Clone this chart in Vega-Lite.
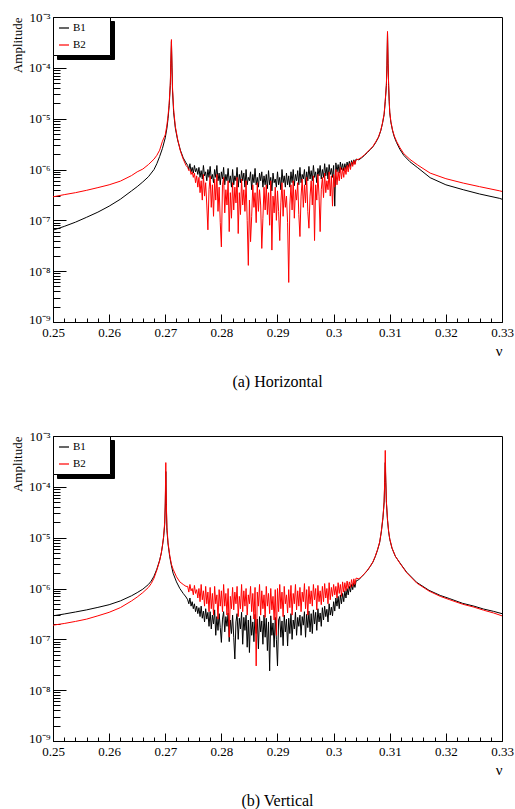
{
"$schema":"https://vega.github.io/schema/vega-lite/v6.json",
"background":"white",
"padding":{"left":10,"top":10,"right":6,"bottom":2},
"config":{"font":"Liberation Serif","view":{"stroke":"black","strokeWidth":1},
"axis":{"domainColor":"black","tickColor":"black","labelColor":"black","titleColor":"black","labelFont":"Liberation Serif","titleFont":"Liberation Serif","labelFontSize":13,"titleFontSize":13,"titleFontWeight":"normal","grid":false,"labelOverlap":false,"labelFlush":false},
"legend":{"padding":5,"symbolSize":100,"symbolStrokeWidth":1.2,"labelFontSize":11,"labelFont":"Liberation Serif","labelColor":"black","rowPadding":6,"labelOffset":3}},
"datasets":{
"k":[{"k":0,"j":0},{"k":1,"j":2}],
"h":[
{"x":0.25,"B1":6.4e-8,"B2":2.9e-7},{"x":0.252,"B1":7.6e-8,"B2":3.2e-7},{"x":0.254,"B1":9.2e-8,"B2":3.5e-7},{"x":0.256,"B1":1.15e-7,"B2":3.9e-7},{"x":0.258,"B1":1.45e-7,"B2":4.4e-7},{"x":0.26,"B1":1.9e-7,"B2":5.0e-7},{"x":0.262,"B1":2.6e-7,"B2":5.9e-7},{"x":0.264,"B1":3.8e-7,"B2":7.6e-7},{"x":0.265,"B1":4.6e-7,"B2":9.0e-7},{"x":0.266,"B1":5.7e-7,"B2":1.02e-6},{"x":0.267,"B1":7.2e-7,"B2":1.25e-6},{"x":0.268,"B1":1.0e-6,"B2":1.6e-6},{"x":0.2685,"B1":1.3e-6,"B2":1.9e-6},{"x":0.269,"B1":1.8e-6,"B2":2.4e-6},{"x":0.2695,"B1":2.6e-6,"B2":3.6e-6},{"x":0.27,"B1":4.2e-6,"B2":4.8e-6},{"x":0.2703,"B1":6.5e-6,"B2":7.5e-6},{"x":0.2705,"B1":1.0e-5,"B2":1.15e-5},{"x":0.2707,"B1":1.8e-5,"B2":2.0e-5},{"x":0.2709,"B1":4.5e-5,"B2":5.0e-5},{"x":0.271,"B1":1.2e-4,"B2":1.4e-4},{"x":0.2711,"B1":3.3e-4,"B2":3.6e-4},{"x":0.2712,"B1":1.0e-4,"B2":1.1e-4},{"x":0.2713,"B1":3.5e-5,"B2":4.0e-5},{"x":0.2715,"B1":1.3e-5,"B2":1.5e-5},{"x":0.2718,"B1":6.5e-6,"B2":7.0e-6},{"x":0.2722,"B1":3.8e-6,"B2":4.0e-6},{"x":0.2727,"B1":2.4e-6,"B2":2.3e-6},{"x":0.2732,"B1":1.7e-6,"B2":1.6e-6},{"x":0.2737,"B1":1.35e-6,"B2":1.2e-6},
{"x":0.274,"B1":1.2e-6,"B2":1.1e-6},{"x":0.2742,"B1":1.0e-6,"B2":9.5e-7},{"x":0.2744,"B1":1.3e-6,"B2":1.0e-6},{"x":0.2746,"B1":9e-7,"B2":8e-7},{"x":0.2748,"B1":1.1e-6,"B2":9e-7},{"x":0.275,"B1":8.5e-7,"B2":7e-7},{"x":0.2752,"B1":1.2e-6,"B2":8.5e-7},{"x":0.2754,"B1":9e-7,"B2":5.5e-7},{"x":0.2756,"B1":1.05e-6,"B2":7.5e-7},{"x":0.2758,"B1":8e-7,"B2":4.5e-7},
{"x":0.276,"B1":1.1e-6,"B2":7e-7},{"x":0.2762,"B1":7e-7,"B2":3.5e-7},{"x":0.2764,"B1":9.5e-7,"B2":6e-7},{"x":0.2766,"B1":6.5e-7,"B2":2.5e-7},{"x":0.2768,"B1":1.2e-6,"B2":8e-7},{"x":0.277,"B1":7.5e-7,"B2":3e-7},{"x":0.2772,"B1":9e-7,"B2":5.5e-7},{"x":0.2774,"B1":6e-7,"B2":2e-7},{"x":0.2776,"B1":1.0e-6,"B2":6.5e-8},{"x":0.2778,"B1":7e-7,"B2":4e-7},
{"x":0.278,"B1":1.15e-6,"B2":7.5e-7},{"x":0.2782,"B1":6.5e-7,"B2":1.8e-7},{"x":0.2784,"B1":8e-7,"B2":5e-7},{"x":0.2786,"B1":5.5e-7,"B2":1.2e-7},{"x":0.2788,"B1":1.0e-6,"B2":6.5e-7},{"x":0.279,"B1":7e-7,"B2":2.5e-7},{"x":0.2792,"B1":1.2e-6,"B2":8e-7},{"x":0.2794,"B1":6e-7,"B2":1.5e-7},{"x":0.2796,"B1":8.5e-7,"B2":4.5e-7},{"x":0.2798,"B1":5e-7,"B2":9e-8},
{"x":0.28,"B1":9e-7,"B2":3e-8},{"x":0.2802,"B1":6.5e-7,"B2":5e-7},{"x":0.2804,"B1":1.1e-6,"B2":7e-7},{"x":0.2806,"B1":5e-7,"B2":1.4e-7},{"x":0.2808,"B1":8e-7,"B2":4e-7},{"x":0.281,"B1":6e-7,"B2":2e-7},{"x":0.2812,"B1":1.05e-6,"B2":6e-7},{"x":0.2814,"B1":5.5e-7,"B2":6e-8},{"x":0.2816,"B1":7.5e-7,"B2":3.5e-7},{"x":0.2818,"B1":4.5e-7,"B2":1.1e-7},
{"x":0.282,"B1":1.0e-6,"B2":5.5e-7},{"x":0.2822,"B1":5e-7,"B2":1.6e-7},{"x":0.2824,"B1":7.5e-7,"B2":4.5e-7},{"x":0.2826,"B1":6e-7,"B2":2.2e-7},{"x":0.2828,"B1":1.1e-6,"B2":7e-7},{"x":0.283,"B1":4.5e-7,"B2":5.5e-8},{"x":0.2832,"B1":8e-7,"B2":3.5e-7},{"x":0.2834,"B1":5.5e-7,"B2":1.3e-7},{"x":0.2836,"B1":9.5e-7,"B2":6.5e-7},{"x":0.2838,"B1":6e-7,"B2":2e-7},
{"x":0.284,"B1":8.5e-7,"B2":4e-7},{"x":0.2842,"B1":4.5e-7,"B2":1.5e-7},{"x":0.2844,"B1":1.0e-6,"B2":6e-7},{"x":0.2846,"B1":5e-7,"B2":1.0e-7},{"x":0.2848,"B1":7e-7,"B2":1.3e-8},{"x":0.285,"B1":6e-7,"B2":2.5e-7},{"x":0.2852,"B1":9e-7,"B2":3.8e-8},{"x":0.2854,"B1":4e-7,"B2":1.2e-7},{"x":0.2856,"B1":8e-7,"B2":5e-7},{"x":0.2858,"B1":5.5e-7,"B2":1.8e-7},
{"x":0.286,"B1":1.05e-6,"B2":3.5e-7},{"x":0.2862,"B1":5e-7,"B2":9e-8},{"x":0.2864,"B1":7e-7,"B2":5.5e-7},{"x":0.2866,"B1":4.5e-7,"B2":1.5e-7},{"x":0.2868,"B1":8.5e-7,"B2":4e-7},{"x":0.287,"B1":6e-7,"B2":2e-7},{"x":0.2872,"B1":9e-7,"B2":2.8e-8},{"x":0.2874,"B1":4.5e-7,"B2":1.1e-7},{"x":0.2876,"B1":7.5e-7,"B2":4.5e-7},{"x":0.2878,"B1":5e-7,"B2":1.6e-7},
{"x":0.288,"B1":8e-7,"B2":5e-7},{"x":0.2882,"B1":4.2e-7,"B2":1.3e-7},{"x":0.2884,"B1":9.5e-7,"B2":3.5e-7},{"x":0.2886,"B1":5e-7,"B2":8e-8},{"x":0.2888,"B1":7e-7,"B2":6e-7},{"x":0.289,"B1":3.8e-7,"B2":2.6e-8},{"x":0.2892,"B1":8.5e-7,"B2":3e-7},{"x":0.2894,"B1":5.5e-7,"B2":1.4e-7},{"x":0.2896,"B1":6.5e-7,"B2":4.5e-7},{"x":0.2898,"B1":4.5e-7,"B2":1.0e-7},
{"x":0.29,"B1":9e-7,"B2":3.8e-7},{"x":0.2902,"B1":5e-7,"B2":1.5e-7},{"x":0.2904,"B1":7e-7,"B2":4e-8},{"x":0.2906,"B1":4e-7,"B2":2.2e-7},{"x":0.2908,"B1":1.0e-6,"B2":5.5e-7},{"x":0.291,"B1":5.5e-7,"B2":1.2e-7},{"x":0.2912,"B1":7.5e-7,"B2":4e-7},{"x":0.2914,"B1":4.5e-7,"B2":1.8e-7},{"x":0.2916,"B1":8.5e-7,"B2":3e-7},{"x":0.2918,"B1":5e-7,"B2":9e-8},
{"x":0.292,"B1":7.5e-7,"B2":6e-9},{"x":0.2922,"B1":4.5e-7,"B2":2e-7},{"x":0.2924,"B1":9e-7,"B2":5e-7},{"x":0.2926,"B1":5.5e-7,"B2":1.6e-7},{"x":0.2928,"B1":1.0e-6,"B2":6e-7},{"x":0.293,"B1":4.8e-7,"B2":1.1e-7},{"x":0.2932,"B1":8e-7,"B2":4e-7},{"x":0.2934,"B1":6e-7,"B2":2.5e-7},{"x":0.2936,"B1":9.5e-7,"B2":5.5e-7},{"x":0.2938,"B1":5e-7,"B2":1.3e-7},
{"x":0.294,"B1":1.1e-6,"B2":4.8e-8},{"x":0.2942,"B1":5.5e-7,"B2":3e-7},{"x":0.2944,"B1":8e-7,"B2":6.5e-7},{"x":0.2946,"B1":6.5e-7,"B2":1.8e-7},{"x":0.2948,"B1":1.0e-6,"B2":5e-7},{"x":0.295,"B1":5e-7,"B2":2.2e-7},{"x":0.2952,"B1":9e-7,"B2":7e-7},{"x":0.2954,"B1":6e-7,"B2":1.5e-7},{"x":0.2956,"B1":1.15e-6,"B2":7e-8},{"x":0.2958,"B1":6.5e-7,"B2":3e-7},
{"x":0.296,"B1":9.5e-7,"B2":6e-7},{"x":0.2962,"B1":6e-7,"B2":2e-7},{"x":0.2964,"B1":1.2e-6,"B2":7.5e-7},{"x":0.2966,"B1":7e-7,"B2":4e-8},{"x":0.2968,"B1":9e-7,"B2":5e-7},{"x":0.297,"B1":5.5e-7,"B2":2.5e-7},{"x":0.2972,"B1":1.05e-6,"B2":8e-7},{"x":0.2974,"B1":7.5e-7,"B2":3e-7},{"x":0.2976,"B1":1.2e-6,"B2":6e-8},{"x":0.2978,"B1":6.5e-7,"B2":4e-7},
{"x":0.298,"B1":1.0e-6,"B2":7e-7},{"x":0.2982,"B1":7e-7,"B2":2.8e-7},{"x":0.2984,"B1":1.3e-6,"B2":8.5e-7},{"x":0.2986,"B1":7.5e-7,"B2":3.5e-7},{"x":0.2988,"B1":1.1e-6,"B2":6e-7},{"x":0.299,"B1":6.5e-7,"B2":4e-7},{"x":0.2992,"B1":1.25e-6,"B2":9e-7},{"x":0.2994,"B1":8e-7,"B2":3e-7},{"x":0.2996,"B1":1.05e-6,"B2":7.5e-7},{"x":0.2998,"B1":7e-7,"B2":1.9e-7},
{"x":0.3,"B1":1.2e-6,"B2":8e-7},{"x":0.3002,"B1":1.9e-7,"B2":4.5e-7},{"x":0.3004,"B1":1.35e-6,"B2":1.0e-6},{"x":0.3006,"B1":9e-7,"B2":5e-7},{"x":0.3008,"B1":1.25e-6,"B2":9e-7},{"x":0.301,"B1":8.5e-7,"B2":6e-7},{"x":0.3012,"B1":1.4e-6,"B2":1.1e-6},{"x":0.3014,"B1":1.0e-6,"B2":6.5e-7},{"x":0.3016,"B1":1.3e-6,"B2":1.05e-6},{"x":0.3018,"B1":9.5e-7,"B2":7e-7},
{"x":0.302,"B1":1.3e-6,"B2":1.1e-6},{"x":0.3022,"B1":1.0e-6,"B2":8e-7},{"x":0.3024,"B1":1.4e-6,"B2":1.2e-6},{"x":0.3026,"B1":1.1e-6,"B2":9e-7},{"x":0.3028,"B1":1.45e-6,"B2":1.3e-6},{"x":0.303,"B1":1.15e-6,"B2":1.0e-6},{"x":0.3032,"B1":1.5e-6,"B2":1.4e-6},{"x":0.3034,"B1":1.25e-6,"B2":1.15e-6},{"x":0.3036,"B1":1.55e-6,"B2":1.5e-6},{"x":0.3038,"B1":1.3e-6,"B2":1.25e-6},{"x":0.304,"B1":1.6e-6,"B2":1.55e-6},
{"x":0.3045,"B1":1.55e-6,"B2":1.6e-6},{"x":0.305,"B1":1.7e-6,"B2":1.75e-6},{"x":0.3055,"B1":1.9e-6,"B2":1.95e-6},{"x":0.306,"B1":2.15e-6,"B2":2.2e-6},{"x":0.3065,"B1":2.45e-6,"B2":2.5e-6},{"x":0.307,"B1":2.8e-6,"B2":2.85e-6},{"x":0.3075,"B1":3.4e-6,"B2":3.5e-6},{"x":0.308,"B1":4.3e-6,"B2":4.4e-6},{"x":0.3084,"B1":5.8e-6,"B2":5.9e-6},{"x":0.3087,"B1":8e-6,"B2":8.2e-6},{"x":0.309,"B1":1.2e-5,"B2":1.25e-5},{"x":0.3092,"B1":2.2e-5,"B2":2.3e-5},{"x":0.3094,"B1":4.5e-5,"B2":4.7e-5},{"x":0.3095,"B1":1.1e-4,"B2":1.15e-4},{"x":0.3096,"B1":5.0e-4,"B2":5.2e-4},{"x":0.3097,"B1":1.2e-4,"B2":1.25e-4},{"x":0.3098,"B1":4.5e-5,"B2":4.7e-5},{"x":0.3099,"B1":2.2e-5,"B2":2.3e-5},{"x":0.31,"B1":1.3e-5,"B2":1.35e-5},{"x":0.3102,"B1":8.5e-6,"B2":8.8e-6},{"x":0.3105,"B1":5.8e-6,"B2":6.0e-6},{"x":0.3108,"B1":4.4e-6,"B2":4.6e-6},{"x":0.3112,"B1":3.4e-6,"B2":3.6e-6},{"x":0.3118,"B1":2.5e-6,"B2":2.7e-6},{"x":0.3125,"B1":1.9e-6,"B2":2.05e-6},{"x":0.3136,"B1":1.42e-6,"B2":1.58e-6},{"x":0.315,"B1":1.08e-6,"B2":1.22e-6},{"x":0.3172,"B1":6.9e-7,"B2":8.5e-7},{"x":0.32,"B1":5.0e-7,"B2":6.6e-7},{"x":0.3231,"B1":4.0e-7,"B2":5.4e-7},{"x":0.326,"B1":3.3e-7,"B2":4.6e-7},{"x":0.3296,"B1":2.7e-7,"B2":3.8e-7},{"x":0.33,"B1":2.6e-7,"B2":3.7e-7}
],
"v":[
{"x":0.25,"B1":2.9e-7,"B2":1.9e-7},{"x":0.252,"B1":3.15e-7,"B2":2.05e-7},{"x":0.254,"B1":3.45e-7,"B2":2.25e-7},{"x":0.256,"B1":3.8e-7,"B2":2.5e-7},{"x":0.258,"B1":4.25e-7,"B2":2.9e-7},{"x":0.26,"B1":4.8e-7,"B2":3.4e-7},{"x":0.262,"B1":5.7e-7,"B2":4.2e-7},{"x":0.264,"B1":7.2e-7,"B2":5.7e-7},{"x":0.265,"B1":8.3e-7,"B2":6.8e-7},{"x":0.266,"B1":9.7e-7,"B2":8.3e-7},{"x":0.267,"B1":1.2e-6,"B2":1.05e-6},{"x":0.2675,"B1":1.4e-6,"B2":1.25e-6},{"x":0.268,"B1":1.75e-6,"B2":1.6e-6},{"x":0.2685,"B1":2.4e-6,"B2":2.3e-6},{"x":0.269,"B1":3.6e-6,"B2":3.5e-6},{"x":0.2693,"B1":5.0e-6,"B2":5.0e-6},{"x":0.2695,"B1":6.9e-6,"B2":7.0e-6},{"x":0.2697,"B1":1.0e-5,"B2":1.05e-5},{"x":0.2699,"B1":1.8e-5,"B2":2.0e-5},{"x":0.27,"B1":4.0e-5,"B2":5.0e-5},{"x":0.2701,"B1":2.0e-4,"B2":3.0e-4},{"x":0.2702,"B1":4.0e-5,"B2":4.5e-5},{"x":0.2703,"B1":1.4e-5,"B2":1.6e-5},{"x":0.2705,"B1":7.5e-6,"B2":8.0e-6},{"x":0.2708,"B1":4.2e-6,"B2":4.5e-6},{"x":0.2711,"B1":2.8e-6,"B2":3.0e-6},{"x":0.2714,"B1":2.0e-6,"B2":2.4e-6},{"x":0.272,"B1":1.35e-6,"B2":1.7e-6},{"x":0.2726,"B1":1.0e-6,"B2":1.35e-6},{"x":0.2732,"B1":8.0e-7,"B2":1.2e-6},{"x":0.2737,"B1":6.8e-7,"B2":1.1e-6},
{"x":0.274,"B1":6e-7,"B2":1.1e-6},{"x":0.2742,"B1":5e-7,"B2":8.5e-7},{"x":0.2744,"B1":6.5e-7,"B2":1.2e-6},{"x":0.2746,"B1":4.5e-7,"B2":9e-7},{"x":0.2748,"B1":5.5e-7,"B2":1.0e-6},{"x":0.275,"B1":4e-7,"B2":7.5e-7},{"x":0.2752,"B1":5e-7,"B2":1.15e-6},{"x":0.2754,"B1":3.5e-7,"B2":8e-7},{"x":0.2756,"B1":4.5e-7,"B2":9.5e-7},{"x":0.2758,"B1":3.2e-7,"B2":6.5e-7},
{"x":0.276,"B1":4.2e-7,"B2":1.0e-6},{"x":0.2762,"B1":2.8e-7,"B2":5.5e-7},{"x":0.2764,"B1":4.5e-7,"B2":1.2e-6},{"x":0.2766,"B1":2.6e-7,"B2":6e-7},{"x":0.2768,"B1":3.6e-7,"B2":9e-7},{"x":0.277,"B1":2.2e-7,"B2":4.5e-7},{"x":0.2772,"B1":4e-7,"B2":1.1e-6},{"x":0.2774,"B1":2.5e-7,"B2":5e-7},{"x":0.2776,"B1":3.4e-7,"B2":8.5e-7},{"x":0.2778,"B1":1.8e-7,"B2":3.5e-7},
{"x":0.278,"B1":3.5e-7,"B2":1.05e-6},{"x":0.2782,"B1":1.6e-7,"B2":4e-7},{"x":0.2784,"B1":3e-7,"B2":8e-7},{"x":0.2786,"B1":2e-7,"B2":3e-7},{"x":0.2788,"B1":3.8e-7,"B2":1.1e-6},{"x":0.279,"B1":1.2e-7,"B2":5e-7},{"x":0.2792,"B1":2.8e-7,"B2":7.5e-7},{"x":0.2794,"B1":1.5e-7,"B2":2.5e-7},{"x":0.2796,"B1":3.2e-7,"B2":9.5e-7},{"x":0.2798,"B1":1.7e-7,"B2":4.5e-7},
{"x":0.28,"B1":8.7e-8,"B2":9e-7},{"x":0.2802,"B1":2.5e-7,"B2":3.5e-7},{"x":0.2804,"B1":3.5e-7,"B2":1.2e-6},{"x":0.2806,"B1":1.4e-7,"B2":4.5e-7},{"x":0.2808,"B1":2.8e-7,"B2":8e-7},{"x":0.281,"B1":1.8e-7,"B2":3e-7},{"x":0.2812,"B1":3.3e-7,"B2":1.0e-6},{"x":0.2814,"B1":9e-8,"B2":1.1e-7},{"x":0.2816,"B1":2.4e-7,"B2":7e-7},{"x":0.2818,"B1":1.3e-7,"B2":4e-7},
{"x":0.282,"B1":3e-7,"B2":1.05e-6},{"x":0.2822,"B1":1.1e-7,"B2":3.8e-7},{"x":0.2824,"B1":4.1e-8,"B2":8.5e-7},{"x":0.2826,"B1":2.2e-7,"B2":5e-7},{"x":0.2828,"B1":3.2e-7,"B2":1.1e-6},{"x":0.283,"B1":1.0e-7,"B2":2.8e-7},{"x":0.2832,"B1":2.6e-7,"B2":7e-7},{"x":0.2834,"B1":1.6e-7,"B2":4e-7},{"x":0.2836,"B1":3.4e-7,"B2":1.2e-6},{"x":0.2838,"B1":8e-8,"B2":3.5e-7},
{"x":0.284,"B1":2.7e-7,"B2":9e-7},{"x":0.2842,"B1":1.5e-7,"B2":4.5e-7},{"x":0.2844,"B1":3e-7,"B2":1.0e-6},{"x":0.2846,"B1":7e-8,"B2":3e-7},{"x":0.2848,"B1":2.4e-7,"B2":7.5e-7},{"x":0.285,"B1":5.5e-8,"B2":5e-7},{"x":0.2852,"B1":2.9e-7,"B2":1.1e-6},{"x":0.2854,"B1":1.2e-7,"B2":3.5e-7},{"x":0.2856,"B1":2.2e-7,"B2":8e-7},{"x":0.2858,"B1":9e-8,"B2":2.5e-7},
{"x":0.286,"B1":3.1e-7,"B2":1.05e-6},{"x":0.2862,"B1":1.3e-7,"B2":3e-8},{"x":0.2864,"B1":2.5e-7,"B2":8.5e-7},{"x":0.2866,"B1":6.5e-8,"B2":4.5e-7},{"x":0.2868,"B1":2.8e-7,"B2":1.2e-6},{"x":0.287,"B1":1.4e-7,"B2":3e-7},{"x":0.2872,"B1":2.3e-7,"B2":9e-7},{"x":0.2874,"B1":8e-8,"B2":4e-7},{"x":0.2876,"B1":3e-7,"B2":7.5e-7},{"x":0.2878,"B1":1.1e-7,"B2":2.7e-7},
{"x":0.288,"B1":2.6e-7,"B2":1.1e-6},{"x":0.2882,"B1":6e-8,"B2":4.5e-7},{"x":0.2884,"B1":2.2e-7,"B2":8e-7},{"x":0.2886,"B1":2.4e-8,"B2":3.2e-7},{"x":0.2888,"B1":2.9e-7,"B2":1.0e-6},{"x":0.289,"B1":1.2e-7,"B2":3.8e-7},{"x":0.2892,"B1":2.1e-7,"B2":7e-7},{"x":0.2894,"B1":7e-8,"B2":2.4e-7},{"x":0.2896,"B1":2.7e-7,"B2":9.5e-7},{"x":0.2898,"B1":1.0e-7,"B2":1.2e-7},
{"x":0.29,"B1":3e-8,"B2":1.0e-6},{"x":0.2902,"B1":2.4e-7,"B2":3.5e-7},{"x":0.2904,"B1":2.8e-7,"B2":1.2e-6},{"x":0.2906,"B1":1.1e-7,"B2":4e-7},{"x":0.2908,"B1":2.3e-7,"B2":8.5e-7},{"x":0.291,"B1":7.5e-8,"B2":2.8e-7},{"x":0.2912,"B1":3e-7,"B2":1.1e-6},{"x":0.2914,"B1":1.4e-7,"B2":5e-7},{"x":0.2916,"B1":2.5e-7,"B2":7.5e-7},{"x":0.2918,"B1":7.4e-8,"B2":3.3e-7},
{"x":0.292,"B1":2.6e-7,"B2":9.5e-7},{"x":0.2922,"B1":1.3e-7,"B2":4.2e-7},{"x":0.2924,"B1":3.2e-7,"B2":1.15e-6},{"x":0.2926,"B1":1.0e-7,"B2":3e-7},{"x":0.2928,"B1":2.4e-7,"B2":8e-7},{"x":0.293,"B1":1.6e-7,"B2":5e-7},{"x":0.2932,"B1":3.4e-7,"B2":1.2e-6},{"x":0.2934,"B1":1.2e-7,"B2":3.8e-7},{"x":0.2936,"B1":2.7e-7,"B2":9e-7},{"x":0.2938,"B1":1.8e-7,"B2":4.5e-7},
{"x":0.294,"B1":3e-7,"B2":1.05e-6},{"x":0.2942,"B1":1.2e-7,"B2":3.5e-7},{"x":0.2944,"B1":2.8e-7,"B2":8.5e-7},{"x":0.2946,"B1":1.9e-7,"B2":5.5e-7},{"x":0.2948,"B1":3.5e-7,"B2":1.25e-6},{"x":0.295,"B1":1.1e-7,"B2":4e-7},{"x":0.2952,"B1":3.1e-7,"B2":9.5e-7},{"x":0.2954,"B1":1.7e-7,"B2":3e-7},{"x":0.2956,"B1":3.6e-7,"B2":1.1e-6},{"x":0.2958,"B1":1.4e-7,"B2":5e-7},
{"x":0.296,"B1":3.2e-7,"B2":9e-7},{"x":0.2962,"B1":1.3e-7,"B2":4.5e-7},{"x":0.2964,"B1":3.8e-7,"B2":1.2e-6},{"x":0.2966,"B1":2e-7,"B2":6e-7},{"x":0.2968,"B1":3.4e-7,"B2":1.0e-6},{"x":0.297,"B1":1.5e-7,"B2":3.8e-7},{"x":0.2972,"B1":4e-7,"B2":1.15e-6},{"x":0.2974,"B1":2.2e-7,"B2":5.5e-7},{"x":0.2976,"B1":3.3e-7,"B2":9e-7},{"x":0.2978,"B1":1.8e-7,"B2":4.8e-7},
{"x":0.298,"B1":4.2e-7,"B2":1.1e-6},{"x":0.2982,"B1":2.4e-7,"B2":5.5e-7},{"x":0.2984,"B1":4.5e-7,"B2":1.25e-6},{"x":0.2986,"B1":2.8e-7,"B2":6.5e-7},{"x":0.2988,"B1":3.9e-7,"B2":1.0e-6},{"x":0.299,"B1":2.2e-7,"B2":5e-7},{"x":0.2992,"B1":5e-7,"B2":1.3e-6},{"x":0.2994,"B1":3e-7,"B2":6e-7},{"x":0.2996,"B1":4.3e-7,"B2":1.05e-6},{"x":0.2998,"B1":2.9e-7,"B2":7e-7},
{"x":0.3,"B1":5.5e-7,"B2":1.2e-6},{"x":0.3002,"B1":3.6e-7,"B2":7.5e-7},{"x":0.3004,"B1":6.5e-7,"B2":1.1e-6},{"x":0.3006,"B1":4.5e-7,"B2":6.5e-7},{"x":0.3008,"B1":7e-7,"B2":1.3e-6},{"x":0.301,"B1":4e-7,"B2":8e-7},{"x":0.3012,"B1":7.5e-7,"B2":1.2e-6},{"x":0.3014,"B1":5e-7,"B2":7e-7},{"x":0.3016,"B1":8e-7,"B2":1.35e-6},{"x":0.3018,"B1":5.5e-7,"B2":8.5e-7},
{"x":0.302,"B1":9e-7,"B2":1.3e-6},{"x":0.3022,"B1":6.5e-7,"B2":9e-7},{"x":0.3024,"B1":1.0e-6,"B2":1.4e-6},{"x":0.3026,"B1":7.5e-7,"B2":1.0e-6},{"x":0.3028,"B1":1.1e-6,"B2":1.35e-6},{"x":0.303,"B1":8.5e-7,"B2":1.05e-6},{"x":0.3032,"B1":1.2e-6,"B2":1.5e-6},{"x":0.3034,"B1":9.5e-7,"B2":1.1e-6},{"x":0.3036,"B1":1.3e-6,"B2":1.55e-6},{"x":0.3038,"B1":1.05e-6,"B2":1.2e-6},{"x":0.304,"B1":1.4e-6,"B2":1.6e-6},
{"x":0.3045,"B1":1.5e-6,"B2":1.55e-6},{"x":0.305,"B1":1.7e-6,"B2":1.72e-6},{"x":0.3055,"B1":1.95e-6,"B2":1.97e-6},{"x":0.306,"B1":2.25e-6,"B2":2.28e-6},{"x":0.3065,"B1":2.7e-6,"B2":2.72e-6},{"x":0.307,"B1":3.3e-6,"B2":3.35e-6},{"x":0.3074,"B1":4.2e-6,"B2":4.25e-6},{"x":0.3078,"B1":5.6e-6,"B2":5.7e-6},{"x":0.3082,"B1":8e-6,"B2":8.2e-6},{"x":0.3085,"B1":1.3e-5,"B2":1.35e-5},{"x":0.3088,"B1":2.5e-5,"B2":2.6e-5},{"x":0.309,"B1":5e-5,"B2":5.2e-5},{"x":0.3091,"B1":1.2e-4,"B2":1.3e-4},{"x":0.3092,"B1":3.0e-4,"B2":5.2e-4},{"x":0.3093,"B1":1.2e-4,"B2":1.3e-4},{"x":0.3094,"B1":5e-5,"B2":5.2e-5},{"x":0.3096,"B1":2.2e-5,"B2":2.3e-5},{"x":0.3098,"B1":1.3e-5,"B2":1.35e-5},{"x":0.31,"B1":9.3e-6,"B2":9.5e-6},{"x":0.3104,"B1":6.2e-6,"B2":6.3e-6},{"x":0.311,"B1":4.3e-6,"B2":4.3e-6},{"x":0.3118,"B1":3.2e-6,"B2":3.15e-6},{"x":0.313,"B1":2.1e-6,"B2":2.05e-6},{"x":0.3148,"B1":1.32e-6,"B2":1.28e-6},{"x":0.317,"B1":9.2e-7,"B2":8.9e-7},{"x":0.319,"B1":7.3e-7,"B2":7.0e-7},{"x":0.3207,"B1":6.3e-7,"B2":6.0e-7},{"x":0.323,"B1":5.1e-7,"B2":4.9e-7},{"x":0.325,"B1":4.5e-7,"B2":4.3e-7},{"x":0.3267,"B1":3.95e-7,"B2":3.75e-7},{"x":0.3285,"B1":3.55e-7,"B2":3.3e-7},{"x":0.33,"B1":3.2e-7,"B2":2.9e-7}
]},
"spacing":38,
"resolve":{"scale":{"color":"independent","fill":"independent","stroke":"independent"},"legend":{"color":"independent","fill":"independent","stroke":"independent"}},
"vconcat":[
{"width":449,"height":305,
"layer":[
{"data":{"name":"h"},
"transform":[{"fold":["B1","B2"],"as":["series","amp"]}],
"mark":{"type":"line","strokeWidth":1,"clip":true},
"encoding":{
"x":{"field":"x","type":"quantitative","scale":{"domain":[0.25,0.33],"nice":false,"zero":false},
"axis":{"values":[0.25,0.252,0.254,0.256,0.258,0.26,0.262,0.264,0.266,0.268,0.27,0.272,0.274,0.276,0.278,0.28,0.282,0.284,0.286,0.288,0.29,0.292,0.294,0.296,0.298,0.3,0.302,0.304,0.306,0.308,0.31,0.312,0.314,0.316,0.318,0.32,0.322,0.324,0.326,0.328,0.33],
"labelExpr":"abs(datum.value*100 - round(datum.value*100)) < 0.01 ? format(datum.value, '~g') : ''",
"tickSize":{"condition":{"test":"abs(datum.value*100 - round(datum.value*100)) < 0.01","value":-8},"value":-4},
"labelPadding":12,"title":"ν","titleAnchor":"end","titleFontSize":15,"titlePadding":0}},
"y":{"field":"amp","type":"quantitative","scale":{"type":"log","domain":[1e-9,1e-3],"nice":false},
"axis":{"values":[1e-9,2e-9,3e-9,4e-9,5e-9,6e-9,7e-9,8e-9,9e-9,1e-8,2e-8,3e-8,4e-8,5e-8,6e-8,7e-8,8e-8,9e-8,1e-7,2e-7,3e-7,4e-7,5e-7,6e-7,7e-7,8e-7,9e-7,1e-6,2e-6,3e-6,4e-6,5e-6,6e-6,7e-6,8e-6,9e-6,1e-5,2e-5,3e-5,4e-5,5e-5,6e-5,7e-5,8e-5,9e-5,1e-4,2e-4,3e-4,4e-4,5e-4,6e-4,7e-4,8e-4,9e-4,1e-3],
"labelExpr":"abs(log(datum.value)/LN10 - round(log(datum.value)/LN10)) > 0.01 ? '' : '10' + (round(log(datum.value)/LN10) == -3 ? '⁻³' : round(log(datum.value)/LN10) == -4 ? '⁻⁴' : round(log(datum.value)/LN10) == -5 ? '⁻⁵' : round(log(datum.value)/LN10) == -6 ? '⁻⁶' : round(log(datum.value)/LN10) == -7 ? '⁻⁷' : round(log(datum.value)/LN10) == -8 ? '⁻⁸' : '⁻⁹')",
"labelOffset":{"condition":{"test":"datum.value < 1.5e-9","value":-3},"value":0},
"tickSize":{"condition":{"test":"abs(log(datum.value)/LN10 - round(log(datum.value)/LN10)) < 0.01","value":-13},"value":-7},
"labelPadding":16,"title":"Amplitude","titleAnchor":"end","titlePadding":4}},
"color":{"field":"series","type":"nominal","scale":{"domain":["B1","B2"],"range":["#000000","#ff0000"]},
"legend":{"orient":"top-left","offset":0,"title":null,"symbolType":"stroke","zindex":3}}
}},
{"data":{"name":"k"},
"mark":{"type":"point","opacity":0,"filled":true},
"encoding":{
"fill":{"field":"k","type":"quantitative","scale":{"domain":[0,1],"range":["black","black"]},
"legend":{"orient":"none","legendX":4,"legendY":4,"direction":"vertical","gradientLength":28,"gradientThickness":47,"labelExpr":"''","labelOffset":0,"title":null,"padding":5,"fillColor":"black","strokeColor":"black","gradientStrokeColor":"black","zindex":1}},
"stroke":{"field":"j","type":"quantitative","scale":{"domain":[0,2],"range":["white","white"]},
"legend":{"orient":"none","legendX":0,"legendY":0,"direction":"vertical","gradientLength":28,"gradientThickness":47,"labelExpr":"''","labelOffset":0,"title":null,"padding":5,"fillColor":"white","strokeColor":"black","gradientStrokeColor":"white","gradientStrokeWidth":0,"zindex":2}}}}
],
"title":{"text":"(a) Horizontal","orient":"bottom","anchor":"middle","fontSize":16,"font":"Liberation Serif","fontWeight":"normal","offset":16,"color":"black"}
},
{"width":449,"height":305,
"layer":[
{"data":{"name":"v"},
"transform":[{"fold":["B1","B2"],"as":["series","amp"]}],
"mark":{"type":"line","strokeWidth":1,"clip":true},
"encoding":{
"x":{"field":"x","type":"quantitative","scale":{"domain":[0.25,0.33],"nice":false,"zero":false},
"axis":{"values":[0.25,0.252,0.254,0.256,0.258,0.26,0.262,0.264,0.266,0.268,0.27,0.272,0.274,0.276,0.278,0.28,0.282,0.284,0.286,0.288,0.29,0.292,0.294,0.296,0.298,0.3,0.302,0.304,0.306,0.308,0.31,0.312,0.314,0.316,0.318,0.32,0.322,0.324,0.326,0.328,0.33],
"labelExpr":"abs(datum.value*100 - round(datum.value*100)) < 0.01 ? format(datum.value, '~g') : ''",
"tickSize":{"condition":{"test":"abs(datum.value*100 - round(datum.value*100)) < 0.01","value":-8},"value":-4},
"labelPadding":12,"title":"ν","titleAnchor":"end","titleFontSize":15,"titlePadding":0}},
"y":{"field":"amp","type":"quantitative","scale":{"type":"log","domain":[1e-9,1e-3],"nice":false},
"axis":{"values":[1e-9,2e-9,3e-9,4e-9,5e-9,6e-9,7e-9,8e-9,9e-9,1e-8,2e-8,3e-8,4e-8,5e-8,6e-8,7e-8,8e-8,9e-8,1e-7,2e-7,3e-7,4e-7,5e-7,6e-7,7e-7,8e-7,9e-7,1e-6,2e-6,3e-6,4e-6,5e-6,6e-6,7e-6,8e-6,9e-6,1e-5,2e-5,3e-5,4e-5,5e-5,6e-5,7e-5,8e-5,9e-5,1e-4,2e-4,3e-4,4e-4,5e-4,6e-4,7e-4,8e-4,9e-4,1e-3],
"labelExpr":"abs(log(datum.value)/LN10 - round(log(datum.value)/LN10)) > 0.01 ? '' : '10' + (round(log(datum.value)/LN10) == -3 ? '⁻³' : round(log(datum.value)/LN10) == -4 ? '⁻⁴' : round(log(datum.value)/LN10) == -5 ? '⁻⁵' : round(log(datum.value)/LN10) == -6 ? '⁻⁶' : round(log(datum.value)/LN10) == -7 ? '⁻⁷' : round(log(datum.value)/LN10) == -8 ? '⁻⁸' : '⁻⁹')",
"labelOffset":{"condition":{"test":"datum.value < 1.5e-9","value":-3},"value":0},
"tickSize":{"condition":{"test":"abs(log(datum.value)/LN10 - round(log(datum.value)/LN10)) < 0.01","value":-13},"value":-7},
"labelPadding":16,"title":"Amplitude","titleAnchor":"end","titlePadding":4}},
"color":{"field":"series","type":"nominal","scale":{"domain":["B1","B2"],"range":["#000000","#ff0000"]},
"legend":{"orient":"top-left","offset":0,"title":null,"symbolType":"stroke","zindex":3}}
}},
{"data":{"name":"k"},
"mark":{"type":"point","opacity":0,"filled":true},
"encoding":{
"fill":{"field":"k","type":"quantitative","scale":{"domain":[0,1],"range":["black","black"]},
"legend":{"orient":"none","legendX":4,"legendY":4,"direction":"vertical","gradientLength":28,"gradientThickness":47,"labelExpr":"''","labelOffset":0,"title":null,"padding":5,"fillColor":"black","strokeColor":"black","gradientStrokeColor":"black","zindex":1}},
"stroke":{"field":"j","type":"quantitative","scale":{"domain":[0,2],"range":["white","white"]},
"legend":{"orient":"none","legendX":0,"legendY":0,"direction":"vertical","gradientLength":28,"gradientThickness":47,"labelExpr":"''","labelOffset":0,"title":null,"padding":5,"fillColor":"white","strokeColor":"black","gradientStrokeColor":"white","gradientStrokeWidth":0,"zindex":2}}}}
],
"title":{"text":"(b) Vertical","orient":"bottom","anchor":"middle","fontSize":16,"font":"Liberation Serif","fontWeight":"normal","offset":16,"color":"black"}
}
]
}
